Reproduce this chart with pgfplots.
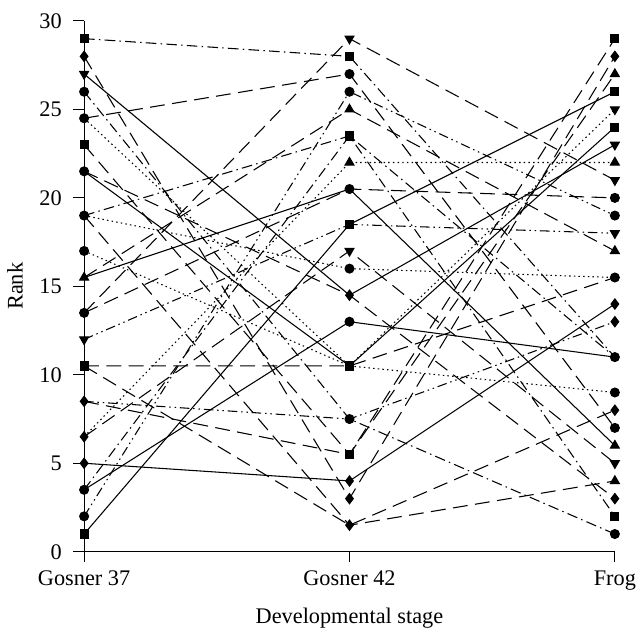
\documentclass[border=0pt]{standalone}
\usepackage{fontspec}
\setmainfont{Liberation Serif}
\usepackage{pgfplots}
\pgfplotsset{compat=1.18}
\tikzset{
  sl/.style={solid},
  ld/.style={dash pattern=on 7pt off 3.5pt},
  dd/.style={dash pattern=on 5pt off 2pt on 0.7pt off 2pt},
  ddd/.style={dash pattern=on 4.5pt off 1.8pt on 0.7pt off 1.8pt on 0.7pt off 1.8pt},
  dt/.style={dash pattern=on 0.7pt off 1.5pt},
}
\begin{document}
\begin{tikzpicture}
\begin{axis}[
  scale only axis, width=250pt, height=250pt,
  xmin=0, xmax=2, ymin=0, ymax=30,
  axis x line*=bottom, axis y line*=left,
  xtick={0,1,2}, xticklabels={Gosner 37, Gosner 42, Frog},
  ytick={0,5,10,15,20,25,30},
  tick align=outside, major tick length=5pt,
  tick style={black, line width=0.5pt},
  axis line style={black, line width=0.5pt},
  xlabel={Developmental stage}, ylabel={Rank},
  tick label style={font=\fontsize{10.5}{12}\selectfont},
  label style={font=\fontsize{10.5}{12}\selectfont},
  /pgf/number format/assume math mode=true,
  xticklabel style={yshift=-0.5pt},
  yticklabel style={xshift=-2pt},
  xlabel style={yshift=-1.5pt},
  ylabel style={yshift=1pt},
  every axis plot/.append style={black, line width=0.5pt},
  clip=false,
]
% lines: (Gosner 37, Gosner 42, Frog)
\addplot[dd, no marks] coordinates {(0,29) (1,28) (2,11)};
\addplot[ld, no marks] coordinates {(0,28) (1,3) (2,28)};
\addplot[sl, no marks] coordinates {(0,27) (1,14.5) (2,23)};
\addplot[dd, no marks] coordinates {(0,26) (1,7.5) (2,1)};
\addplot[ld, no marks] coordinates {(0,24.5) (1,27) (2,7)};
\addplot[dt, no marks] coordinates {(0,24.5) (1,10.5) (2,25)};
\addplot[ld, no marks] coordinates {(0,23) (1,5.5) (2,29)};
\addplot[ld, no marks] coordinates {(0,21.5) (1,14.5) (2,3)};
\addplot[sl, no marks] coordinates {(0,21.5) (1,10.5) (2,24)};
\addplot[dd, no marks] coordinates {(0,19) (1,23.5) (2,11)};
\addplot[dt, no marks] coordinates {(0,19) (1,16) (2,15.5)};
\addplot[ld, no marks] coordinates {(0,19) (1,1.5) (2,4)};
\addplot[dt, no marks] coordinates {(0,17) (1,10.5) (2,9)};
\addplot[ld, no marks] coordinates {(0,15.5) (1,25) (2,17)};
\addplot[sl, no marks] coordinates {(0,15.5) (1,20.5) (2,6)};
\addplot[ld, no marks] coordinates {(0,13.5) (1,29) (2,21)};
\addplot[ld, no marks] coordinates {(0,13.5) (1,20.5) (2,20)};
\addplot[ddd, no marks] coordinates {(0,12) (1,18.5) (2,18)};
\addplot[ld, no marks] coordinates {(0,10.5) (1,10.5) (2,15.5)};
\addplot[ld, no marks] coordinates {(0,10.5) (1,1.5) (2,8)};
\addplot[ddd, no marks] coordinates {(0,8.5) (1,7.5) (2,13)};
\addplot[ld, no marks] coordinates {(0,8.5) (1,5.5) (2,27)};
\addplot[dt, no marks] coordinates {(0,6.5) (1,22) (2,22)};
\addplot[ld, no marks] coordinates {(0,6.5) (1,17) (2,5)};
\addplot[sl, no marks] coordinates {(0,5) (1,4) (2,14)};
\addplot[sl, no marks] coordinates {(0,3.5) (1,13) (2,11)};
\addplot[dd, no marks] coordinates {(0,3.5) (1,23.5) (2,2)};
\addplot[ddd, no marks] coordinates {(0,2) (1,26) (2,19)};
\addplot[sl, no marks] coordinates {(0,1) (1,18.5) (2,26)};
% markers
\addplot[only marks, mark=square*, mark size=1.9pt] coordinates {
  (0,29) (0,23) (0,10.5) (0,1)
  (1,28) (1,23.5) (1,18.5) (1,10.5) (1,5.5)
  (2,29) (2,26) (2,24) (2,2)};
\addplot[only marks, mark=*, mark size=2.1pt] coordinates {
  (0,26) (0,24.5) (0,21.5) (0,19) (0,17) (0,13.5) (0,3.5) (0,2)
  (1,27) (1,26) (1,20.5) (1,16) (1,13) (1,7.5)
  (2,20) (2,19) (2,15.5) (2,11) (2,9) (2,7) (2,1)};
\addplot[only marks, mark=diamond*, mark size=2.4pt] coordinates {
  (0,28) (0,8.5) (0,6.5) (0,5)
  (1,14.5) (1,4) (1,3) (1,1.5)
  (2,28) (2,14) (2,13) (2,8) (2,3)};
\addplot[only marks, mark=triangle*, mark size=2.4pt] coordinates {
  (0,15.5)
  (1,25) (1,22)
  (2,27) (2,22) (2,17) (2,6) (2,4)};
\addplot[only marks, mark=triangle*, mark size=2.4pt, mark options={rotate=180}] coordinates {
  (0,27) (0,12)
  (1,29) (1,17)
  (2,25) (2,23) (2,21) (2,18) (2,5)};
\end{axis}
\path (current bounding box.north) ++(0,3pt);
\end{tikzpicture}
\end{document}
